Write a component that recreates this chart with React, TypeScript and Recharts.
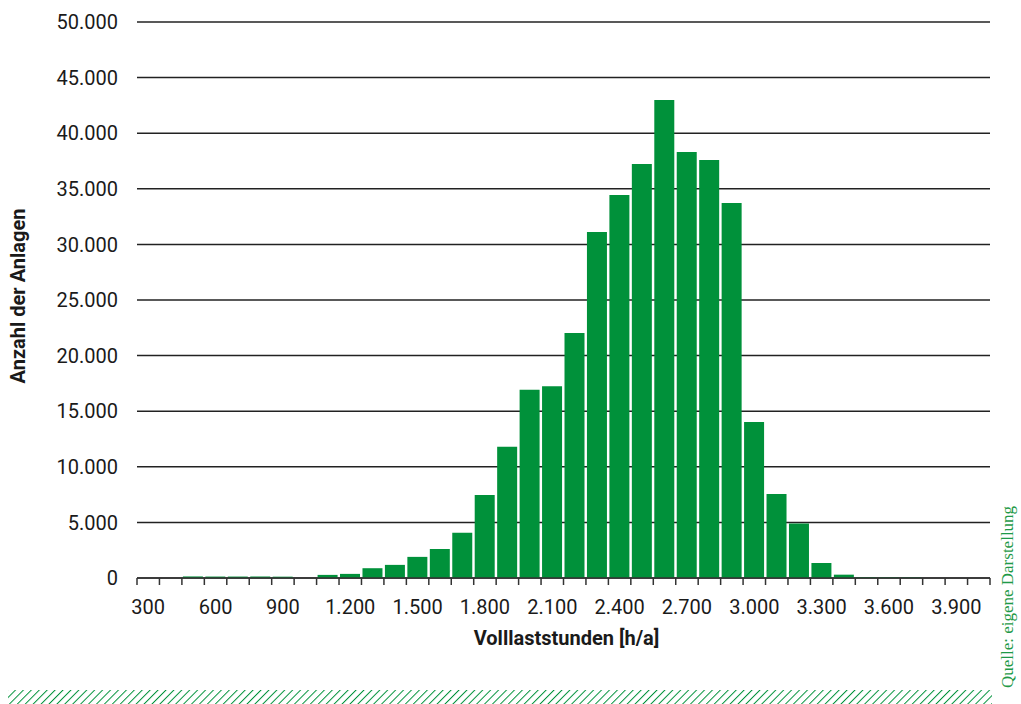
import React from "react";
import {
  BarChart,
  Bar,
  XAxis,
  YAxis,
  CartesianGrid,
} from "recharts";

// Volllaststunden-Klassen (je 100 h/a)
const hours = [
  300, 400, 500, 600, 700, 800, 900, 1000, 1100, 1200, 1300, 1400, 1500,
  1600, 1700, 1800, 1900, 2000, 2100, 2200, 2300, 2400, 2500, 2600, 2700,
  2800, 2900, 3000, 3100, 3200, 3300, 3400, 3500, 3600, 3700, 3800, 3900,
  4000,
];

// Anzahl der Anlagen je Klasse
const counts = [
  0, 0, 140, 130, 130, 140, 120, 0, 280, 370, 880, 1180, 1900, 2610, 4080,
  7460, 11810, 16940, 17240, 22030, 31120, 34440, 37230, 42990, 38310, 37590,
  33720, 14030, 7550, 4900, 1350, 300, 80, 70, 60, 0, 0, 0,
];

const yTicks = [
  0, 5000, 10000, 15000, 20000, 25000, 30000, 35000, 40000, 45000, 50000,
];

const GREEN = "#00913a";
const INK = "#1a1a1a";
const FONT = "Roboto, 'Noto Sans', sans-serif";

const W = 1021;
const H = 704;
const PLOT_LEFT = 137;
const PLOT_RIGHT = 990;

const fmt = (v: number) =>
  String(v).replace(/\B(?=(\d{3})+(?!\d))/g, ".");

const data = hours.map((h, i) => ({ hours: h, value: counts[i] }));

function XTick(props: any) {
  const { x, y, payload, index } = props;
  const fallback = (PLOT_RIGHT - PLOT_LEFT) / hours.length / 2;
  const half =
    payload && typeof payload.offset === "number" && payload.offset > 0
      ? payload.offset
      : fallback;
  const top = y - 22;
  const last = index === hours.length - 1;
  return (
    <g>
      <line
        x1={x - half}
        x2={x - half}
        y1={top}
        y2={top + 7}
        stroke="#333"
        strokeWidth={1.5}
      />
      {last && (
        <line
          x1={x + half}
          x2={x + half}
          y1={top}
          y2={top + 7}
          stroke="#333"
          strokeWidth={1.5}
        />
      )}
      {index % 3 === 0 && (
        <text
          x={x}
          y={y}
          dy="0.71em"
          textAnchor="middle"
          fontFamily={FONT}
          fontSize={20}
          fill={INK}
        >
          {fmt(payload.value)}
        </text>
      )}
    </g>
  );
}

export default function App() {
  return (
    <div
      style={{
        position: "absolute",
        left: 0,
        top: 0,
        width: W,
        height: H,
        background: "#fff",
      }}
    >
      <BarChart
        width={W}
        height={H}
        data={data}
        margin={{ top: 22, right: W - PLOT_RIGHT, bottom: 66, left: 0 }}
        barCategoryGap={1}
      >
        <CartesianGrid
          vertical={false}
          stroke="#222"
          strokeWidth={1.5}
        />
        <XAxis
          dataKey="hours"
          type="category"
          interval={0}
          height={60}
          tickLine={false}
          tickSize={7}
          tickMargin={15}
          axisLine={{ stroke: "#333", strokeWidth: 1.5 }}
          tick={<XTick />}
          label={(p: any) => {
            const vb = p.viewBox || { x: PLOT_LEFT, y: 578, width: 853 };
            return (
              <text
                x={vb.x + vb.width / 2 + 3}
                y={vb.y + 67}
                textAnchor="middle"
                fontFamily={FONT}
                fontWeight={700}
                fontSize={20}
                fill={INK}
              >
                Volllaststunden [h/a]
              </text>
            );
          }}
        />
        <YAxis
          width={PLOT_LEFT}
          domain={[0, 50000]}
          ticks={yTicks}
          axisLine={false}
          tickLine={false}
          tickSize={0}
          tickMargin={19}
          tickFormatter={fmt}
          tick={{ fontFamily: FONT, fontSize: 20, fill: INK }}
          label={(p: any) => {
            const vb = p.viewBox || { x: 0, y: 22, height: 556 };
            const cy = vb.y + vb.height / 2 - 4;
            return (
              <text
                transform={`translate(25, ${cy}) rotate(-90)`}
                textAnchor="middle"
                fontFamily={FONT}
                fontWeight={700}
                fontSize={20}
                fill={INK}
              >
                Anzahl der Anlagen
              </text>
            );
          }}
        />
        <Bar dataKey="value" fill={GREEN} isAnimationActive={false} />
      </BarChart>
      <svg
        width={W}
        height={H}
        style={{ position: "absolute", left: 0, top: 0, pointerEvents: "none" }}
      >
        <defs>
          <pattern
            id="hatch"
            patternUnits="userSpaceOnUse"
            width={5.6}
            height={5.6}
            patternTransform="rotate(45)"
          >
            <line x1={0} y1={0} x2={0} y2={5.6} stroke={GREEN} strokeWidth={2} />
          </pattern>
        </defs>
        <rect x={8} y={690} width={984} height={14} fill="url(#hatch)" />
        <text
          transform="translate(1013, 597) rotate(-90)"
          textAnchor="middle"
          fontFamily="'Liberation Serif', 'DejaVu Serif', serif"
          fontSize={17}
          fill="#1f9a48"
        >
          Quelle: eigene Darstellung
        </text>
      </svg>
    </div>
  );
}
